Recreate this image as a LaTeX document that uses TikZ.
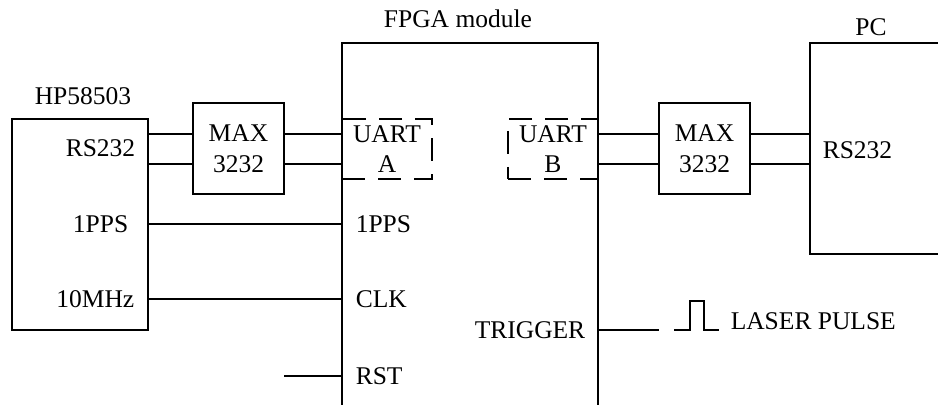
\documentclass[tikz,border=0pt]{standalone}
\usepackage{fontspec}
\setmainfont{Liberation Serif}
\usepackage{tikz}

\begin{document}
\begin{tikzpicture}[x=0.5pt,y=-0.5pt,line width=0.75pt,
  every node/.style={font=\fontsize{12.75}{15.3}\selectfont},
  blk/.style={draw,inner sep=0pt,outer sep=0pt,align=center},
  port/.style={draw,dash pattern=on 11.5pt off 6.5pt,inner sep=0pt,outer sep=0pt,
    align=center,minimum width=45pt,minimum height=30pt},
  lbl/.style={inner sep=0pt}]
  \clip (0,0) rectangle (938,405);
  % boxes
  \node[blk,minimum width=68pt,minimum height=105.5pt] (hp) at (80,224.5) {};
  \node[blk,minimum width=45.5pt,minimum height=45.5pt] (maxa) at (238.5,148.5) {MAX\\3232};
  \node[blk,minimum width=45.5pt,minimum height=45.5pt] (maxb) at (704.5,148.5) {MAX\\3232};
  \node[blk,minimum width=128pt,minimum height=191pt] (fpga) at (470,234) {};
  \node[blk,minimum width=75pt,minimum height=105.5pt] (pc) at (885,148.5) {};
  \node[port] (uarta) at (387,149) {UART\\A};
  \node[port] (uartb) at (553,149) {UART\\B};
  % titles
  \node (hptitle) at (83,96) {HP58503};
  \node (fpgatitle) at (458,19) {FPGA module};
  \node (pctitle) at (871,27) {PC};
  % pin labels
  \node[lbl,anchor=east] (hprs) at (136,148) {RS232};
  \node[lbl,anchor=east] (hppps) at (129,224) {1PPS};
  \node[lbl,anchor=east] (hpclk) at (135,299) {10MHz};
  \node[lbl,anchor=west] (fpps) at (355,224) {1PPS};
  \node[lbl,anchor=west] (fclk) at (355,299) {CLK};
  \node[lbl,anchor=west] (frst) at (355,376) {RST};
  \node[lbl,anchor=east] (ftrig) at (586,330) {TRIGGER};
  \node[lbl,anchor=west] (pcrs) at (822,150) {RS232};
  \node[lbl,anchor=west] (laser) at (730,321) {LASER PULSE};
  % serial links
  \coordinate (ra) at (0,134);
  \coordinate (rb) at (0,164);
  \foreach \r in {ra,rb} {
    \draw (hp.east |- \r) -- (maxa.west |- \r);
    \draw (maxa.east |- \r) -- (fpga.west |- \r);
    \draw (fpga.east |- \r) -- (maxb.west |- \r);
    \draw (maxb.east |- \r) -- (pc.west |- \r);
  }
  % timing signals
  \draw (hp.east |- hppps) -- (fpga.west |- hppps);
  \draw (hp.east |- hpclk) -- (fpga.west |- hpclk);
  \coordinate (rstin) at (284,376);
  \draw (rstin) -- (fpga.west |- rstin);
  \coordinate (trigout) at (659,330);
  \draw (fpga.east |- trigout) -- (trigout);
  % laser pulse
  \coordinate (pulse) at (674,330);
  \draw (pulse) -- ++(16,0) -- ++(0,-29) -- ++(14,0) -- ++(0,29) -- ++(15,0);
\end{tikzpicture}
\end{document}
